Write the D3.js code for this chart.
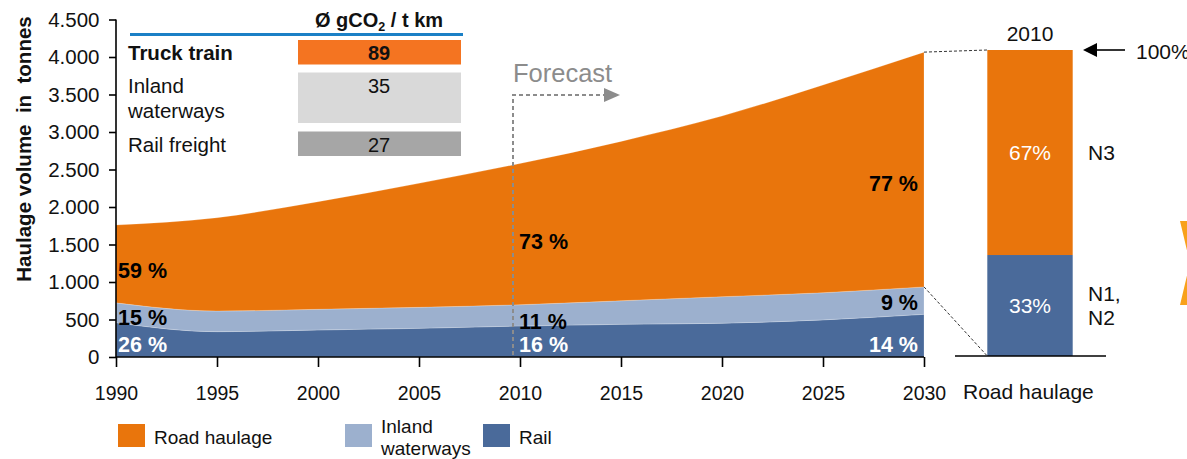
<!DOCTYPE html>
<html>
<head>
<meta charset="utf-8">
<script src="https://cdn.jsdelivr.net/npm/d3@7"></script>
<style>
  html, body { margin: 0; padding: 0; background: #fff; }
  svg { display: block; font-family: "Liberation Sans", Arial, sans-serif; }
  text { white-space: pre; }
</style>
</head>
<body>
<svg id="chart" width="1187" height="459"></svg>
<script>
// Freight haulage volume by mode (tonnes), historic and forecast
const years = [1990, 1995, 2000, 2005, 2010, 2015, 2020, 2025, 2030];
const rail = [458, 338, 360, 382, 413, 436, 450, 495, 569];
const waterways = [264, 275, 276, 280, 284, 314, 354, 362, 366];
const road = [1038, 1244, 1435, 1654, 1883, 2125, 2409, 2770, 3130];

const yTicks = [0, 500, 1000, 1500, 2000, 2500, 3000, 3500, 4000, 4500];
const xTicks = years;

// Share labels shown on the areas
const shareLabels = [
  { year: 1990, layer: "road", text: "59 %" },
  { year: 1990, layer: "waterways", text: "15 %" },
  { year: 1990, layer: "rail", text: "26 %" },
  { year: 2010, layer: "road", text: "73 %" },
  { year: 2010, layer: "waterways", text: "11 %" },
  { year: 2010, layer: "rail", text: "16 %" },
  { year: 2030, layer: "road", text: "77 %" },
  { year: 2030, layer: "waterways", text: "9 %" },
  { year: 2030, layer: "rail", text: "14 %" }
];

// CO2 intensity table
const co2Modes = ["Truck train", "Inland\nwaterways", "Rail freight"];
const co2Values = [89, 35, 27];

// 2010 road haulage split by vehicle class
const splitClasses = ["N1,\nN2", "N3"];
const splitShares = [33, 67];

const legendNames = ["Road haulage", "Inland\nwaterways", "Rail"];

const colors = { road: "#E9750C", waterways: "#9CB0CE", rail: "#4A6A9A" };
const co2Colors = ["#F47421", "#D9D9D9", "#A6A6A6"];

const svg = d3.select("#chart");

const x = d3.scaleLinear().domain([1990, 2030]).range([116, 924]);
const y = d3.scaleLinear().domain([0, 4500]).range([357, 19.5]);

const table = years.map((yr, i) => ({ year: yr, rail: rail[i], waterways: waterways[i], road: road[i] }));
const stack = d3.stack().keys(["rail", "waterways", "road"]);
const layers = stack(table);

const area = d3.area()
  .x(d => x(d.data.year))
  .y0(d => y(d[0]))
  .y1(d => y(d[1]))
  .curve(d3.curveMonotoneX);

svg.append("g").selectAll("path")
  .data(layers)
  .join("path")
  .attr("d", area)
  .attr("fill", d => colors[d.key])
  .attr("stroke", "#ffffff")
  .attr("stroke-opacity", 0.35)
  .attr("stroke-width", 0.6);

// Axes
const locale = d3.formatLocale({ decimal: ",", thousands: ".", grouping: [3], currency: ["", " €"] });
const fmt = locale.format(",d");

const yAxis = svg.append("g")
  .attr("transform", `translate(${x(1990)},0)`)
  .call(d3.axisLeft(y).tickValues(yTicks).tickFormat(fmt).tickSize(7).tickPadding(9.5));
const xAxis = svg.append("g")
  .attr("transform", `translate(0,${y(0)})`)
  .call(d3.axisBottom(x).tickValues(xTicks).tickFormat(d3.format("d")).tickSize(10).tickPadding(19.5));

[yAxis, xAxis].forEach(g => {
  g.select(".domain").attr("stroke", "#000").attr("stroke-width", 1.6);
  g.selectAll(".tick line").attr("stroke", "#000").attr("stroke-width", 1.6);
  g.selectAll(".tick text").attr("fill", "#111")
    .attr("font-family", "'Liberation Sans', Arial, sans-serif");
});
yAxis.selectAll(".tick text").attr("font-size", 20.5);
xAxis.selectAll(".tick text").attr("font-size", 19.5);
yAxis.select(".domain").attr("d", `M0,${y(4500)}V${y(0)}`);
xAxis.select(".domain").attr("d", `M${x(1990)},0H${x(2030)}`);

svg.append("text")
  .attr("transform", `translate(31,149) rotate(-90)`)
  .attr("text-anchor", "middle")
  .attr("font-size", 20.5)
  .attr("font-weight", "bold")
  .attr("fill", "#111")
  .text("Haulage volume  in  tonnes");

// Share labels: anchored at the 1990 edge, the 2010 forecast line and the 2030 edge
const idx = yr => years.indexOf(yr);
const layerByKey = Object.fromEntries(layers.map(l => [l.key, l]));
shareLabels.forEach(l => {
  const seg = layerByKey[l.layer][idx(l.year)];
  const top = y(seg[1]), bottom = y(seg[0]);
  let tx, anchor;
  if (l.year === 1990) { tx = x(1990) + 2; anchor = "start"; }
  else if (l.year === 2030) { tx = x(2030) - 6; anchor = "end"; }
  else { tx = x(l.year) - 1; anchor = "start"; }
  let baseline;
  if (l.layer === "rail") baseline = y(0) - 5;
  else if (l.layer === "waterways") baseline = l.year === 2030 ? bottom - 4 : bottom + 2.5;
  else if (l.year === 1990) baseline = bottom - 25;
  else if (l.year === 2010) baseline = bottom - 56;
  else baseline = top + 139;
  svg.append("text")
    .attr("x", tx).attr("y", baseline)
    .attr("text-anchor", anchor)
    .attr("font-size", 21.5).attr("font-weight", "bold")
    .attr("fill", l.layer === "rail" ? "#fff" : "#000")
    .text(l.text);
});

// Forecast marker
const fx = x(2010) - 7;
svg.append("path")
  .attr("d", `M${fx},${y(0) - 2}V95H605`)
  .attr("fill", "none")
  .attr("stroke", "#8C8C8C")
  .attr("stroke-width", 2)
  .attr("stroke-dasharray", "4,3");
svg.append("path")
  .attr("d", "M604,88L620,95L604,102Z")
  .attr("fill", "#8C8C8C");
svg.append("text")
  .attr("x", fx).attr("y", 82)
  .attr("font-size", 25.5)
  .attr("fill", "#8C8C8C")
  .text("Forecast");

// CO2 table
svg.append("line")
  .attr("x1", 130).attr("x2", 463).attr("y1", 34.5).attr("y2", 34.5)
  .attr("stroke", "#1B80C6").attr("stroke-width", 3);
const header = svg.append("text")
  .attr("x", 379).attr("y", 26.5)
  .attr("text-anchor", "middle")
  .attr("font-size", 20).attr("font-weight", "bold").attr("fill", "#111");
header.append("tspan").text("Ø gCO");
header.append("tspan").attr("font-size", 12.5).attr("dy", 4).text("2");
header.append("tspan").attr("dy", -4).text(" / t km");

const rowTops = [40, 72.5, 131.5];
const rowHeights = [24.5, 50.5, 24.5];
co2Modes.forEach((m, i) => {
  svg.append("rect")
    .attr("x", 298).attr("y", rowTops[i])
    .attr("width", 163).attr("height", rowHeights[i])
    .attr("fill", co2Colors[i]);
  const lines = m.split("\n");
  lines.forEach((ln, j) => {
    svg.append("text")
      .attr("x", 128).attr("y", rowTops[i] + 20 + j * 25)
      .attr("font-size", 20.5)
      .attr("font-weight", i === 0 ? "bold" : "normal")
      .attr("fill", "#111")
      .text(ln);
  });
  svg.append("text")
    .attr("x", 379).attr("y", rowTops[i] + 20)
    .attr("text-anchor", "middle")
    .attr("font-size", 20)
    .attr("font-weight", i === 0 ? "bold" : "normal")
    .attr("fill", "#111")
    .text(co2Values[i]);
});

// 2010 road haulage split bar
const barX = d3.scaleBand().domain(["2010"]).range([954, 1106]).paddingOuter(0.39);
const yBar = d3.scaleLinear().domain([0, 100]).range([356, 50]);
const splitStack = d3.stack().keys(splitClasses)([Object.fromEntries(splitClasses.map((c, i) => [c, splitShares[i]]))]);
const splitColors = [colors.rail, colors.road];
const bx = barX("2010"), bw = barX.bandwidth();

svg.append("g").selectAll("rect")
  .data(splitStack)
  .join("rect")
  .attr("x", bx).attr("width", bw)
  .attr("y", d => yBar(d[0][1]))
  .attr("height", d => yBar(d[0][0]) - yBar(d[0][1]))
  .attr("fill", (d, i) => splitColors[i]);

splitStack.forEach((d, i) => {
  const mid = (yBar(d[0][0]) + yBar(d[0][1])) / 2;
  svg.append("text")
    .attr("x", bx + bw / 2).attr("y", mid)
    .attr("dy", "0.35em")
    .attr("text-anchor", "middle")
    .attr("font-size", 21).attr("fill", "#fff")
    .text(splitShares[i] + "%");
  const lines = splitClasses[i].split("\n");
  lines.forEach((ln, j) => {
    svg.append("text")
      .attr("x", 1088).attr("y", mid - (lines.length - 1) * 12 + j * 24)
      .attr("dy", "0.35em")
      .attr("font-size", 21).attr("fill", "#111")
      .text(ln);
  });
});

svg.append("line")
  .attr("x1", 955).attr("x2", 1106).attr("y1", yBar(0)).attr("y2", yBar(0))
  .attr("stroke", "#000").attr("stroke-width", 1.6);

svg.append("text")
  .attr("x", bx + bw / 2).attr("y", 34)
  .attr("dy", "0.35em")
  .attr("text-anchor", "middle")
  .attr("font-size", 21).attr("fill", "#111")
  .text("2010");

svg.append("text")
  .attr("x", 963).attr("y", 398.5)
  .attr("font-size", 21).attr("fill", "#111")
  .text("Road haulage");

// Connectors from the 2030 road band to the split bar
const last = years.length - 1;
const roadSeg = layerByKey.road[last];
svg.append("path")
  .attr("d", `M${x(2030)},${y(roadSeg[1])}L${bx},${yBar(100)}M${x(2030)},${y(roadSeg[0])}L${bx},${yBar(0)}`)
  .attr("fill", "none")
  .attr("stroke", "#333")
  .attr("stroke-width", 1)
  .attr("stroke-dasharray", "3,2");

// 100% arrow
svg.append("line")
  .attr("x1", 1095).attr("x2", 1125).attr("y1", yBar(100)).attr("y2", yBar(100))
  .attr("stroke", "#000").attr("stroke-width", 1.6);
svg.append("path")
  .attr("d", `M1083,${yBar(100)}L1097,${yBar(100) - 7}L1097,${yBar(100) + 7}Z`)
  .attr("fill", "#000");
svg.append("text")
  .attr("x", 1136).attr("y", yBar(100) + 1.5)
  .attr("dy", "0.35em")
  .attr("font-size", 21).attr("fill", "#111")
  .text("100%");

// Chevron at the right margin
svg.append("path")
  .attr("d", "M1180,221H1202L1212,263L1202,305H1180L1190,263Z")
  .attr("fill", "#F8A11B");

// Legend
const legendX = [118, 345, 483];
const legendColors = [colors.road, colors.waterways, colors.rail];
legendNames.forEach((n, i) => {
  svg.append("rect")
    .attr("x", legendX[i]).attr("y", 424)
    .attr("width", 27).attr("height", 23)
    .attr("fill", legendColors[i]);
  const lines = n.split("\n");
  lines.forEach((ln, j) => {
    svg.append("text")
      .attr("x", legendX[i] + 36)
      .attr("y", 444 - (lines.length - 1) * 11.5 + j * 22)
      .attr("font-size", 19).attr("fill", "#111")
      .text(ln);
  });
});
</script>
</body>
</html>
